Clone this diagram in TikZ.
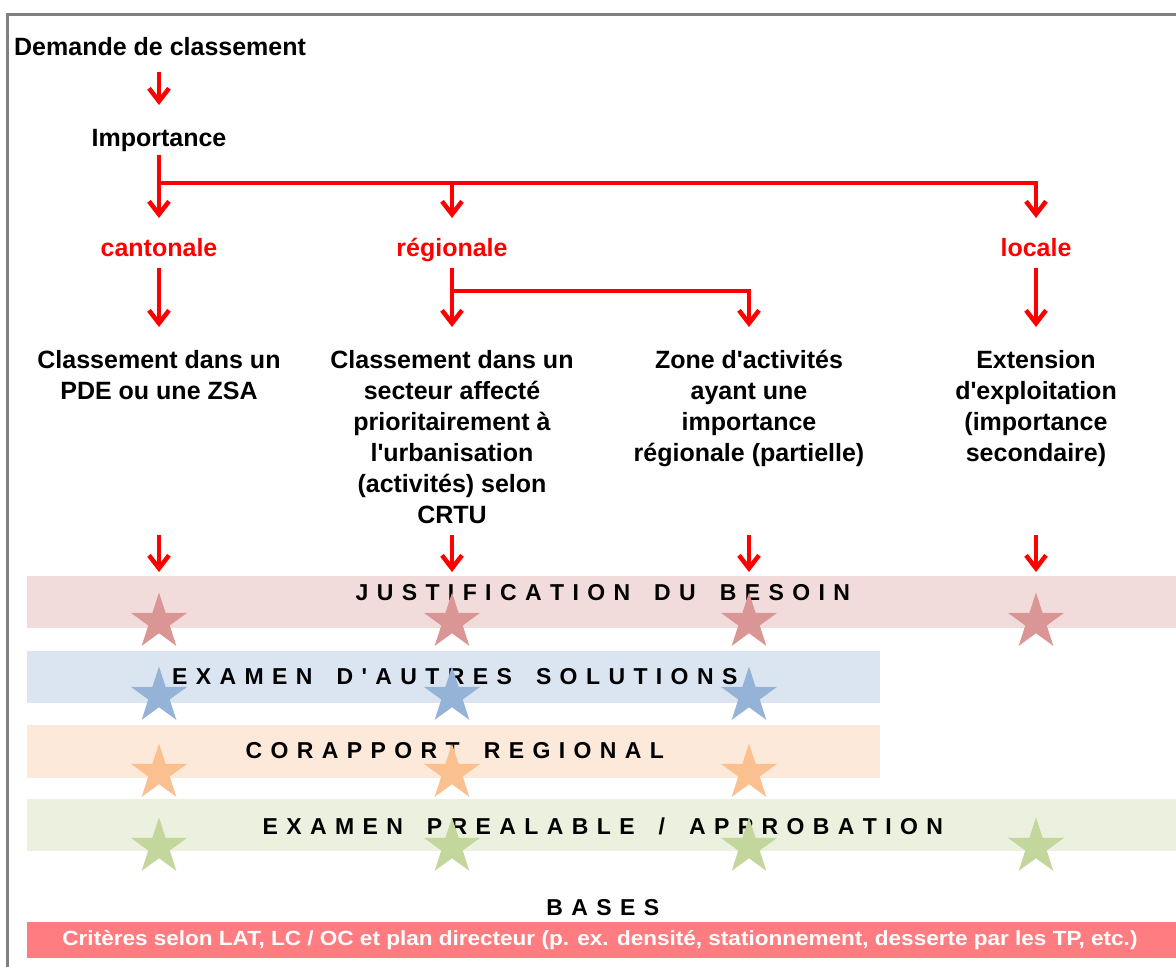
\documentclass[tikz,border=0pt]{standalone}
\usepackage{graphicx}
\usepackage{fontspec}
\setmainfont{Liberation Sans}[Ligatures=TeXOff]
\usetikzlibrary{arrows.meta,shapes.geometric}
\tikzset{>={Straight Barb[length=13pt,width=20pt]}}

% spaced capitals for the stripe titles
\newdimen\ls \ls=8.4pt
\newdimen\wgap \wgap=7.2pt
\def\ws{\kern\wgap}
\def\track#1{\trackstep#1\relax}
\def\trackstep#1{\ifx\relax#1\else#1\kern\ls\expandafter\trackstep\fi}

\definecolor{bandpink}{HTML}{F2DCDB}
\definecolor{bandblue}{HTML}{DBE5F1}
\definecolor{bandorange}{HTML}{FDE9D9}
\definecolor{bandgreen}{HTML}{EBF1DE}
\definecolor{starpink}{HTML}{D99694}
\definecolor{starblue}{HTML}{95B3D7}
\definecolor{starorange}{HTML}{FAC090}
\definecolor{stargreen}{HTML}{C3D69B}
\definecolor{barred}{HTML}{FF7C80}

\begin{document}
\begin{tikzpicture}[x=1pt,y=1pt,
	arr/.style = {% red connectors
		->, draw=red, line width=4.5pt},
	txt/.style = {% black labels
		font=\fontsize{25}{31}\selectfont\bfseries, inner sep=0pt},
	lvl/.style = {% importance levels
		txt, text height=18pt, text depth=5pt},
	col/.style = {% column texts
		txt, anchor=north, align=center},
	band/.style = {% coloured stripes
		fill=#1, anchor=north west, minimum height=52pt, inner sep=0pt},
	bt/.style = {% stripe titles
		font=\fontsize{23}{26}\selectfont\bfseries, inner sep=0pt},
	st/.style = {% stars
		star, star points=5, star point ratio=2.618,
		minimum size=59pt, inner sep=0pt, fill=#1},
	]

	\useasboundingbox (0,0) rectangle (1176,-967);

	% frame
	\draw[line width=2.5pt, draw=black!50] (7.5,-967) -- (7.5,-14.5) -- (1176,-14.5);

	% tree
	\node[txt, anchor=west] (demande) at (14,-47) {Demande de classement};
	\node[lvl] (importance) at (159,-140) {Importance};
	\node[lvl, text=red] (cantonale) at (159,-250) {cantonale};
	\node[lvl, text=red] (regionale) at (452,-250) {régionale};
	\node[lvl, text=red] (locale) at (1036,-250) {locale};

	\node[col] (pde) at (159,-350) {Classement dans un\\PDE ou une ZSA};
	\node[col] (secteur) at (452,-350) {Classement dans un\\secteur affecté\\prioritairement à\\l'urbanisation\\(activités) selon\\CRTU};
	\node[col] (zone) at (749,-350) {Zone d'activités\\ayant une\\importance\\régionale (partielle)};
	\node[col] (extension) at (1036,-350) {Extension\\d'exploitation\\(importance\\secondaire)};

	\coordinate (split) at (159,-183);
	\coordinate (fork) at (452,-291);

	\draw[arr, shorten <=25pt, shorten >=35pt] (demande.center -| importance.center) -- (importance.center);
	\draw[arr, shorten <=15pt, shorten >=32pt] (importance.center) -- (cantonale.center);
	\draw[arr, shorten >=32pt] (split) -| (locale.center);
	\draw[arr, shorten >=32pt] (split -| regionale) -- (regionale.center);

	\draw[arr, shorten <=18pt, shorten >=23pt] (cantonale.center) -- (pde.north);
	\draw[arr, shorten <=18pt, shorten >=23pt] (regionale.center) -- (secteur.north);
	\draw[arr, shorten >=23pt] (fork) -| (zone.north);
	\draw[arr, shorten <=18pt, shorten >=23pt] (locale.center) -- (extension.north);

	% stripes
	\node[band=bandpink, minimum width=1160pt] (justif) at (27,-576) {};
	\node[band=bandblue, minimum width=853pt] (examen) at (27,-651) {};
	\node[band=bandorange, minimum width=853pt, minimum height=53pt] (corapport) at (27,-725) {};
	\node[band=bandgreen, minimum width=1160pt] (prealable) at (27,-799) {};

	\node[bt] (justif-t) at (607,-593) {\track{JUSTIFICATION\ws DU\ws BESOIN}};
	\node[bt] (examen-t) at (459,-677) {\track{EXAMEN\ws D'AUTRES\ws SOLUTIONS}};
	\node[bt] (corapport-t) at (459,-751) {\track{CORAPPORT\ws REGIONAL}};
	\node[bt] (prealable-t) at (607,-826) {\track{EXAMEN\ws PREALABLE\ws /\ws APPROBATION}};

	\foreach \c in {pde,secteur,zone,extension}{
		\draw[arr] (\c |- justif.north) ++(0,41) -- ++(0,-37);
		\node[st=starpink, yshift=-46pt] (j-\c) at (\c |- justif.north) {};
		\node[st=stargreen, yshift=-48pt] (p-\c) at (\c |- prealable.north) {};
	}
	\foreach \c in {pde,secteur,zone}{
		\node[st=starblue, yshift=-45pt] (e-\c) at (\c |- examen.north) {};
		\node[st=starorange, yshift=-48pt] (c-\c) at (\c |- corapport.north) {};
	}

	% bases
	\node[bt] (bases) at (607,-908) {\track{BASES}};
	\node[fill=barred, anchor=north west, minimum width=1160pt, minimum height=36pt, inner sep=0pt] (criteres) at (27,-922) {};
	\node[text=white, font=\fontsize{20.5}{22}\selectfont\bfseries, inner sep=0pt] (criteres-t) at (600,-940)
		{\resizebox{1075pt}{\height}{Critères selon LAT, LC / OC et plan directeur (p. ex. densité, stationnement, desserte par les TP, etc.)}};

\end{tikzpicture}
\end{document}
